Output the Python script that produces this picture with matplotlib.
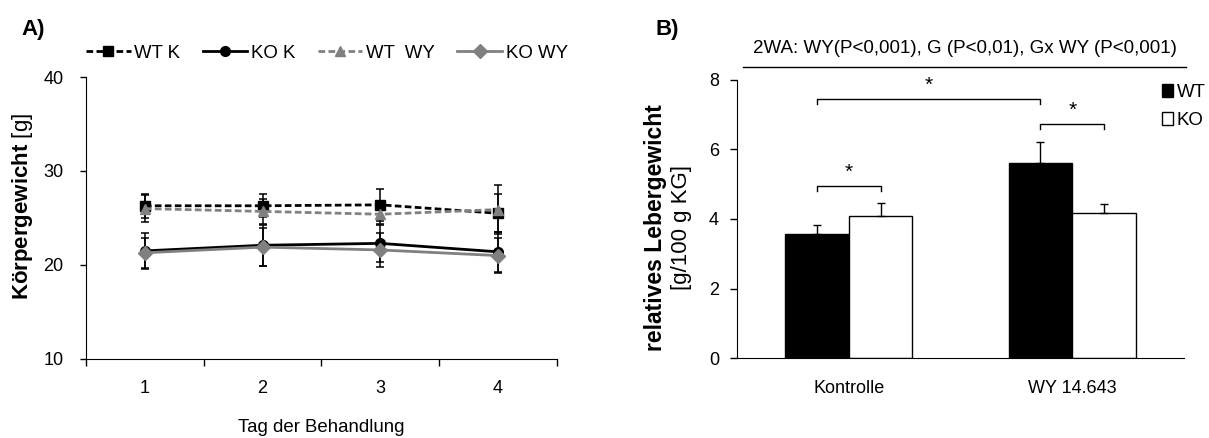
import numpy as np
import matplotlib
matplotlib.use("Agg")
import matplotlib.pyplot as plt
from matplotlib.patches import Patch

plt.rcParams['font.family'] = ['Liberation Sans', 'DejaVu Sans']
plt.rcParams['mathtext.fontset'] = 'custom'
plt.rcParams['mathtext.rm'] = 'Liberation Sans'
plt.rcParams['mathtext.bf'] = 'Liberation Sans:bold'

# panel A: body weight over days
days = [1, 2, 3, 4]
wt_k = [26.3, 26.3, 26.4, 25.5]
wt_k_err = [1.3, 1.2, 1.7, 2.0]
ko_k = [21.5, 22.1, 22.3, 21.4]
ko_k_err = [1.9, 2.2, 2.0, 2.1]
wt_wy = [26.0, 25.7, 25.4, 25.9]
wt_wy_err = [1.4, 1.3, 1.0, 2.6]
ko_wy = [21.3, 21.9, 21.6, 21.0]
ko_wy_err = [1.6, 2.0, 1.8, 1.9]

# panel B: relative liver weight
groups = ["Kontrolle", "WY 14.643"]
wt_liver = [3.57, 5.61]
wt_liver_err = [0.27, 0.60]
ko_liver = [4.09, 4.17]
ko_liver_err = [0.37, 0.26]

fig = plt.figure(figsize=(12.09, 4.38), dpi=100)

#---- panel A
axA = fig.add_axes([0.0711, 0.1804, 0.3896, 0.6438])
gray = "#808080"
series = [
    (wt_k, wt_k_err, "black", "--", "s", 7, "WT K"),
    (ko_k, ko_k_err, "black", "-", "o", 7, "KO K"),
    (wt_wy, wt_wy_err, gray, "--", "^", 7, "WT  WY"),
    (ko_wy, ko_wy_err, gray, "-", "D", 7, "KO WY"),
]
handles = []
for vals, errs, col, ls, mk, ms, lab in series:
    axA.errorbar(days, vals, yerr=errs, fmt="none", ecolor="black",
                 elinewidth=1.1, capsize=3, capthick=1.1)
    ln, = axA.plot(days, vals, color=col, linestyle=ls, marker=mk,
                   markersize=ms, linewidth=2.0, label=lab)
    if ls == "--":
        ln.set_dashes((2.4, 1.2))
    handles.append(ln)

axA.set_xlim(0.5, 4.5)
axA.set_ylim(10, 40)
axA.set_yticks([10, 20, 30, 40])
axA.set_xticks([0.5, 1.5, 2.5, 3.5, 4.5])
axA.set_xticklabels([])
axA.set_xticks(days, minor=True)
axA.set_xticklabels([str(d) for d in days], minor=True, fontsize=13)
axA.tick_params(axis="x", which="major", length=5, width=1, direction="out")
axA.tick_params(axis="x", which="minor", length=0, pad=15)
axA.tick_params(axis="y", length=4, width=1, pad=12, labelsize=13)
for s in ["top", "right"]:
    axA.spines[s].set_visible(False)
axA.set_xlabel("Tag der Behandlung", fontsize=13.4, labelpad=16)
axA.set_ylabel(r"$\mathbf{Körpergewicht}$ [g]", fontsize=16)
axA.yaxis.set_label_coords(-0.108, 0.54)
axA.legend(handles=handles, loc="center left", bbox_to_anchor=(0.0, 1.085),
           ncol=4, frameon=False, fontsize=13.4, handlelength=2.4,
           handletextpad=0.2, columnspacing=1.2, borderpad=0, borderaxespad=0)
fig.text(33 / 1209, 1 - 30 / 438, "A)", fontsize=16, fontweight="bold",
         ha="center", va="center")

#---- panel B
axB = fig.add_axes([0.6096, 0.1826, 0.3697, 0.6348])
x = np.arange(len(groups))
w = 0.285
axB.bar(x - w / 2, wt_liver, w, color="black", edgecolor="black", linewidth=1)
axB.bar(x + w / 2, ko_liver, w, color="white", edgecolor="black", linewidth=1)
axB.errorbar(x - w / 2, wt_liver, yerr=[np.zeros(2), wt_liver_err], fmt="none",
             ecolor="black", elinewidth=1, capsize=3, capthick=1)
axB.errorbar(x + w / 2, ko_liver, yerr=[np.zeros(2), ko_liver_err], fmt="none",
             ecolor="black", elinewidth=1, capsize=3, capthick=1)
axB.set_xlim(-0.5, 1.5)
axB.set_ylim(0, 8)
axB.set_yticks([0, 2, 4, 6, 8])
axB.set_xticks(x)
axB.set_xticklabels(groups, fontsize=13)
axB.tick_params(axis="x", length=0, pad=16)
axB.tick_params(axis="y", length=5, width=1, pad=8, labelsize=13)
for s in ["top", "right"]:
    axB.spines[s].set_visible(False)


def bracket(ax, x0, x1, y, h=0.14):
    ax.plot([x0, x0, x1, x1], [y - h, y, y, y - h], color="black", lw=1,
            clip_on=False)
    ax.text((x0 + x1) / 2, y + 0.12, "*", ha="center", va="bottom",
            fontsize=15)


bracket(axB, -w / 2, w / 2, 4.95)
bracket(axB, -w / 2, 1 - w / 2, 7.45)
bracket(axB, 1 - w / 2, 1 + w / 2, 6.73)

axB.plot([0.013, 1.004], [1.047, 1.047], color="black", lw=1,
         transform=axB.transAxes, clip_on=False)
axB.text(0.51, 1.115, "2WA: WY(P<0,001), G (P<0,01), Gx WY (P<0,001)",
         transform=axB.transAxes, ha="center", va="center", fontsize=13.5)

axB.text(-0.183, 0.471, "relatives Lebergewicht", transform=axB.transAxes,
         rotation=90, ha="center", va="center", fontsize=16.5,
         fontweight="bold")
axB.text(-0.125, 0.471, "[g/100 g KG]", transform=axB.transAxes,
         rotation=90, ha="center", va="center", fontsize=16)

leg_handles = [Patch(facecolor="black", edgecolor="black", label="WT"),
               Patch(facecolor="white", edgecolor="black", label="KO")]
axB.legend(handles=leg_handles, loc="upper left", bbox_to_anchor=(0.951, 0.985),
           frameon=False, fontsize=13.4, handlelength=0.6, handleheight=0.7,
           handletextpad=0.2, labelspacing=0.6, borderpad=0, borderaxespad=0)
fig.text(667 / 1209, 1 - 30 / 438, "B)", fontsize=16, fontweight="bold",
         ha="center", va="center")

fig.savefig("out.png", dpi=100)
